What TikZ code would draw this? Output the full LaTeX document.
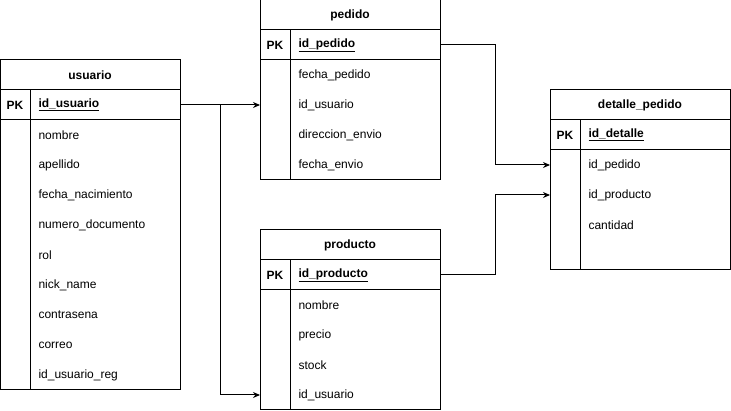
\documentclass[tikz,border=0pt]{standalone}
\usepackage{fontspec}
\setmainfont{Liberation Sans}
\usetikzlibrary{arrows.meta}
\begin{document}
\begin{tikzpicture}[x=1pt,y=-1pt,line width=1pt,
  cell/.style={draw,minimum width=180pt,minimum height=30pt,inner sep=0pt,outer sep=0pt,anchor=north west},
  body/.style={draw,minimum width=180pt,inner sep=0pt,outer sep=0pt,anchor=north west},
  hdr/.style={font=\bfseries\fontsize{12}{14}\selectfont},
  fld/.style={anchor=west,inner sep=0pt,font=\fontsize{12}{14}\selectfont},
  pkl/.style={anchor=center,inner sep=0pt,font=\bfseries\fontsize{12}{14}\selectfont},
  conn/.style={-{Stealth[length=7pt,width=6pt]},line width=1pt}]
\useasboundingbox (0,0) rectangle (731,411);
% usuario
\node[cell,hdr] (uh) at (0,60) {usuario};
\node[cell] (upk) at (0,90) {};
\node[body,minimum height=270pt] (ub) at (0,120) {};
\draw ([xshift=30pt]upk.north west) -- ([xshift=30pt]ub.south west);
\node[pkl] (upkl) at (15,105) {PK};
\node[fld,font=\bfseries\fontsize{12}{14}\selectfont] (uid) at (38,105) {\underline{id\_usuario}};
\node[fld] (u1) at (38,135) {nombre};
\node[fld] (u2) at (38,165) {apellido};
\node[fld] (u3) at (38,195) {fecha\_nacimiento};
\node[fld] (u4) at (38,225) {numero\_documento};
\node[fld] (u5) at (38,255) {rol};
\node[fld] (u6) at (38,285) {nick\_name};
\node[fld] (u7) at (38,315) {contrasena};
\node[fld] (u8) at (38,345) {correo};
\node[fld] (u9) at (38,375) {id\_usuario\_reg};
% pedido
\node[cell,hdr] (ph) at (260,0) {pedido};
\node[cell] (ppk) at (260,30) {};
\node[body,minimum height=120pt] (pb) at (260,60) {};
\draw ([xshift=30pt]ppk.north west) -- ([xshift=30pt]pb.south west);
\node[pkl] (ppkl) at (275,45) {PK};
\node[fld,font=\bfseries\fontsize{12}{14}\selectfont] (pid) at (298,45) {\underline{id\_pedido}};
\node[fld] (p1) at (298,75) {fecha\_pedido};
\node[fld] (p2) at (298,105) {id\_usuario};
\node[fld] (p3) at (298,135) {direccion\_envio};
\node[fld] (p4) at (298,165) {fecha\_envio};
% producto
\node[cell,hdr] (rh) at (260,230) {producto};
\node[cell] (rpk) at (260,260) {};
\node[body,minimum height=120pt] (rb) at (260,290) {};
\draw ([xshift=30pt]rpk.north west) -- ([xshift=30pt]rb.south west);
\node[pkl] (rpkl) at (275,275) {PK};
\node[fld,font=\bfseries\fontsize{12}{14}\selectfont] (rid) at (298,275) {\underline{id\_producto}};
\node[fld] (r1) at (298,305) {nombre};
\node[fld] (r2) at (298,335) {precio};
\node[fld] (r3) at (298,365) {stock};
\node[fld] (r4) at (298,395) {id\_usuario};
% detalle_pedido
\node[cell,hdr] (dh) at (550,90) {detalle\_pedido};
\node[cell] (dpk) at (550,120) {};
\node[body,minimum height=120pt] (db) at (550,150) {};
\draw ([xshift=30pt]dpk.north west) -- ([xshift=30pt]db.south west);
\node[pkl] (dpkl) at (565,135) {PK};
\node[fld,font=\bfseries\fontsize{12}{14}\selectfont] (did) at (588,135) {\underline{id\_detalle}};
\node[fld] (d1) at (588,165) {id\_pedido};
\node[fld] (d2) at (588,195) {id\_producto};
\node[fld] (d3) at (588,225) {cantidad};
% connectors
\draw[conn] (upk.east) -- (pb.west |- p2);
\draw[conn] (upk.east) -- ++(40,0) |- (rb.west |- r4);
\draw[conn] (ppk.east) -- ++(55,0) |- (db.west |- d1);
\draw[conn] (rpk.east) -- ++(55,0) |- (db.west |- d2);
\end{tikzpicture}
\end{document}
